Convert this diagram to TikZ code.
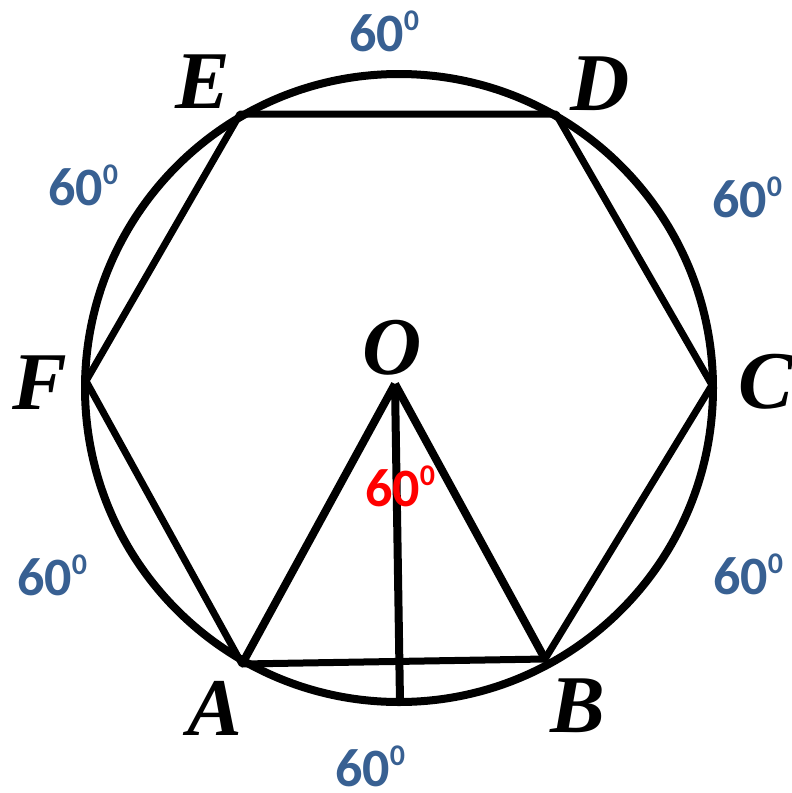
\documentclass[tikz,border=0pt]{standalone}
\usepackage{fontspec}
\setmainfont{Liberation Serif}
\newfontfamily\labelfont{Carlito}
\usetikzlibrary{positioning}
\definecolor{arcblue}{RGB}{56,96,146}
\definecolor{anglered}{RGB}{255,0,0}

\newcommand{\sixty}{60\raisebox{21pt}{\fontsize{30}{30}\selectfont 0}}

\begin{document}
\begin{tikzpicture}[
    x=1pt, y=-1pt,
    arclabel/.style={font=\labelfont\bfseries\fontsize{54}{54}\selectfont, text=arcblue, inner sep=0pt},
    anglelabel/.style={arclabel, text=anglered},
    vertex/.style={font=\bfseries\itshape\fontsize{82}{82}\selectfont, inner sep=0pt},
    rim/.style={line width=8pt},
    edge/.style={line width=7pt, line join=round},
    spoke/.style={line width=8pt}
]
\useasboundingbox (0,0) rectangle (792,793);

% Points
\coordinate (ctr) at (399,388);
\coordinate (A) at (242,664);
\coordinate (B) at (545,659);
\coordinate (C) at (712,385);
\coordinate (D) at (556,114);
\coordinate (E) at (240,114);
\coordinate (F) at (86,381);
\coordinate (O) at (395,384);
\coordinate (M) at (400,702);

% Circle and hexagon
\draw[rim] (ctr) circle[radius=314];
\draw[edge] (A) -- (B) -- (C) -- (D) -- (E) -- (F) -- cycle;

% Triangle OAB
\draw[spoke] (O) -- (A);
\draw[spoke] (O) -- (B);
\draw[spoke] (O) -- (M);

% Vertex names
\node[vertex] (nA) at (215,708) {A};
\node[vertex] (nB) at (578,706) {B};
\node[vertex, anchor=west] (nC) at (738,382) {C};
\node[vertex] (nD) at (600,84) {D};
\node[vertex] (nE) at (203,82) {E};
\node[vertex] (nF) at (40,383) {F};
\node[vertex] (nO) at (392,348) {O};

% Arcs
\node[arclabel] (arcED) at (384,31) {\sixty};
\node[arclabel] (arcEF) at (83,185) {\sixty};
\node[arclabel] (arcDC) at (747,197) {\sixty};
\node[arclabel] (arcFA) at (52,575) {\sixty};
\node[arclabel] (arcCB) at (748,574) {\sixty};
\node[arclabel] (arcAB) at (370,766) {\sixty};

% Central angle
\node[anglelabel] (angAOB) at (400,486) {\sixty};

\end{tikzpicture}
\end{document}
